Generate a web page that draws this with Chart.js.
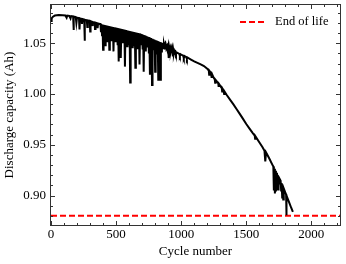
<!DOCTYPE html>
<html>
<head>
<meta charset="utf-8">
<script src="https://cdn.jsdelivr.net/npm/chart.js@4"></script>
<style>
  html, body { margin: 0; padding: 0; background: #fff; }
  #wrap { width: 346px; height: 264px; }
</style>
</head>
<body>
<div id="wrap"><canvas id="grafico" width="346" height="264"></canvas></div>
<script>
// early cycles
const ciclosInicio = [0,5,15,30,60,90,110,120,125,140,150,155,170,173,176,190,195,200,215,219,223,235,238,242,255,258,261,275,279,283,298,301,304,315,318,322,335,338,342,355,358,362,375];
const capInicio = [1.0720,1.0745,1.0762,1.0773,1.0779,1.0776,1.0774,1.0752,1.0773,1.0770,1.0745,1.0768,1.0765,1.0630,1.0763,1.0758,1.0700,1.0752,1.0748,1.0635,1.0745,1.0740,1.0690,1.0738,1.0733,1.0525,1.0731,1.0727,1.0660,1.0724,1.0720,1.0615,1.0718,1.0712,1.0670,1.0710,1.0705,1.0640,1.0703,1.0698,1.0650,1.0695,1.0690];

// noisy middle section
const ciclosRuido = [380,384,388,392,396,400,404,408,412,416,420,424,428,432,436,440,444,448,452,456,460,464,468,472,476,480,484,488,492,496,500,504,508,512,516,520,524,528,532,536,540,544,548,552,556,560,564,568,572,576,580,584,588,592,596,600,604,608,612,616,620,624,628,632,636,640,644,648,652,656,660,664,668,672,676,680,684,688,692,696,700,704,708,712,716,720,724,728,732,736,740,744,748,752,756,760,764,768,772,776,780,784,788,792,796,800,804,808,812,816,820,824,828,832,836,840,844,848,852,856,860,864,868,872,876,880,884,888,892,896,900,904,908,912,916,920,924,928,932,936,940,944,948,952,956,960,964];
const capRuido = [
  1.0690,1.0610,1.0688,1.0580,1.0685,1.0435,1.0683,1.0560,1.0680,1.0480,
  1.0678,1.0570,1.0675,1.0520,1.0673,1.0590,1.0670,1.0435,1.0668,1.0560,
  1.0665,1.0530,1.0663,1.0590,1.0660,1.0420,1.0658,1.0550,1.0655,1.0510,
  1.0653,1.0570,1.0650,1.0480,1.0648,1.0320,1.0645,1.0540,1.0643,1.0356,
  1.0640,1.0560,1.0638,1.0500,1.0635,1.0540,1.0633,1.0270,1.0630,1.0520,
  1.0628,1.0470,1.0625,1.0550,1.0623,1.0490,1.0620,1.0114,1.0618,1.0530,
  1.0615,1.0460,1.0613,1.0540,1.0610,1.0480,1.0608,1.0260,1.0605,1.0520,
  1.0603,1.0450,1.0600,1.0500,1.0598,1.0290,1.0595,1.0480,1.0591,1.0530,
  1.0587,1.0440,1.0582,1.0220,1.0578,1.0490,1.0574,1.0420,1.0569,1.0500,
  1.0565,1.0460,1.0561,1.0400,1.0556,1.0190,1.0552,1.0470,1.0548,1.0090,
  1.0543,1.0440,1.0539,1.0480,1.0535,1.0220,1.0530,1.0460,1.0526,1.0400,
  1.0522,1.0140,1.0517,1.0450,1.0513,1.0140,1.0509,1.0420,1.0504,1.0470,
  1.0500,1.0450,1.0493,1.0470,1.0486,1.0440,1.0479,1.0460,1.0472,1.0440,
  1.0466,1.0356,1.0459,1.0430,1.0452,1.0420,1.0445,1.0410,1.0438,1.0370,
  1.0431,1.0400,1.0424,1.0410,1.0417,1.0395,1.0410
];

// fade to end of life
const ciclosFim = [972,985,990,995,1000,1015,1020,1025,1040,1044,1048,1075,1100,1125,1150,1175,1200,1212,1215,1218,1230,1234,1238,1250,1258,1261,1264,1275,1285,1288,1291,1300,1312,1315,1318,1325,1330,1335,1350,1375,1400,1425,1450,1475,1500,1525,1550,1565,1568,1571,1600,1625,1640,1646,1652,1675,1700,1708,1712,1716,1720,1724,1728,1732,1736,1740,1744,1748,1752,1756,1764,1768,1772,1776,1780,1784,1788,1800,1806,1808,1810,1830,1845,1858];
const capFim = [1.0405,1.0396,1.0375,1.0392,1.0388,1.0378,1.0355,1.0374,1.0363,1.0345,1.0360,1.0340,1.0322,1.0307,1.0292,1.0276,1.0250,1.0232,1.0190,1.0226,1.0205,1.0160,1.0195,1.0160,1.0145,1.0110,1.0140,1.0122,1.0105,1.0070,1.0098,1.0080,1.0058,1.0025,1.0052,1.0036,1.0000,1.0020,0.9990,0.9945,0.9900,0.9853,0.9805,0.9755,0.9705,0.9660,0.9615,0.9590,0.9560,0.9583,0.9525,0.9475,0.9440,0.9336,0.9425,0.9370,0.9305,0.9285,0.9050,0.9265,0.9020,0.9245,0.9040,0.9225,0.9080,0.9205,0.9060,0.9185,0.9120,0.9165,0.9145,0.9050,0.9120,0.8980,0.9095,0.8960,0.9070,0.9030,0.9010,0.8805,0.9000,0.8930,0.8880,0.8840];

const fimDeVida = 0.88;
const xLimites = [0, 2220];
const yLimites = [0.871, 1.0877];
const xTicks = [0, 500, 1000, 1500, 2000];
const yTicks = [0.90, 0.95, 1.00, 1.05];

const fonte = "'Liberation Serif', 'Times New Roman', serif";

const ciclos = [...ciclosInicio, ...ciclosRuido, ...ciclosFim];
const capacidade = [...capInicio, ...capRuido, ...capFim];
const pontos = ciclos.map((c, i) => ({ x: c, y: capacidade[i] }));

// inward ticks on all four sides + frame
const moldura = {
    id: "moldura",
    afterDatasetsDraw(chart) {
        const { ctx, chartArea: a, scales: { x, y } } = chart;
        ctx.save();
        ctx.strokeStyle = "#333";
        ctx.lineWidth = 1;
        ctx.beginPath();
        for (let v = 0; v <= 2200; v += 100) {
            const px = Math.round(x.getPixelForValue(v)) + 0.5;
            const len = v % 500 === 0 ? 4 : 2;
            ctx.moveTo(px, a.bottom); ctx.lineTo(px, a.bottom - len);
            ctx.moveTo(px, a.top); ctx.lineTo(px, a.top + len);
        }
        for (let k = 88; k <= 108; k++) {
            const py = Math.round(y.getPixelForValue(k / 100)) + 0.5;
            const len = k % 5 === 0 ? 4 : 2;
            ctx.moveTo(a.left, py); ctx.lineTo(a.left + len, py);
            ctx.moveTo(a.right, py); ctx.lineTo(a.right - len, py);
        }
        ctx.stroke();
        ctx.strokeRect(Math.round(a.left) - 0.5, Math.round(a.top) - 0.5,
            Math.round(a.right - a.left) + 1, Math.round(a.bottom - a.top) + 1);
        ctx.restore();
    }
};

// legend drawn by hand: dashed sample + label, top right
const legenda = {
    id: "legenda",
    afterDraw(chart) {
        const { ctx, chartArea: a } = chart;
        const ds = chart.data.datasets[1];
        const yc = a.top + 17;
        const x0 = a.right - 100;
        ctx.save();
        ctx.strokeStyle = ds.borderColor;
        ctx.lineWidth = ds.borderWidth;
        ctx.setLineDash(ds.borderDash);
        ctx.beginPath();
        ctx.moveTo(x0, yc);
        ctx.lineTo(x0 + 25, yc);
        ctx.stroke();
        ctx.setLineDash([]);
        ctx.fillStyle = "#000";
        ctx.font = "12.5px " + fonte;
        ctx.textBaseline = "middle";
        ctx.fillText(ds.label, x0 + 35, yc);
        ctx.restore();
    }
};

new Chart(document.getElementById("grafico"), {
    type: "line",
    data: {
        datasets: [
            {
                label: "Capacity",
                data: pontos,
                borderColor: "#000",
                borderWidth: 2,
                pointRadius: 0,
                tension: 0
            },
            {
                label: "End of life",
                data: [{ x: xLimites[0], y: fimDeVida }, { x: xLimites[1], y: fimDeVida }],
                borderColor: "#ff0000",
                borderWidth: 2,
                borderDash: [6, 3],
                pointRadius: 0
            }
        ]
    },
    options: {
        responsive: false,
        animation: false,
        layout: { padding: { left: 0, right: 6, top: 5, bottom: 0 } },
        plugins: {
            tooltip: { enabled: false },
            legend: { display: false }
        },
        scales: {
            x: {
                type: "linear",
                min: xLimites[0],
                max: xLimites[1],
                afterBuildTicks: s => { s.ticks = xTicks.map(v => ({ value: v })); },
                afterFit: s => { s.height = 39; s.paddingLeft = 0; s.paddingRight = 0; },
                grid: { display: false, drawTicks: false },
                border: { display: false },
                ticks: { color: "#000", padding: 2, maxRotation: 0, callback: v => String(v), font: { family: fonte, size: 13 } },
                title: { display: true, text: "Cycle number", color: "#000", padding: { top: 0, bottom: 5 }, font: { family: fonte, size: 13 } }
            },
            y: {
                type: "linear",
                min: yLimites[0],
                max: yLimites[1],
                afterBuildTicks: s => { s.ticks = yTicks.map(v => ({ value: v })); },
                afterFit: s => { s.width = 51; s.paddingTop = 0; s.paddingBottom = 0; },
                grid: { display: false, drawTicks: false },
                border: { display: false },
                ticks: { color: "#000", padding: 5, callback: v => Number(v).toFixed(2), font: { family: fonte, size: 13 } },
                title: { display: true, text: "Discharge capacity (Ah)", color: "#000", padding: { top: 2, bottom: 0 }, font: { family: fonte, size: 13 } }
            }
        }
    },
    plugins: [moldura, legenda]
});
</script>
</body>
</html>
